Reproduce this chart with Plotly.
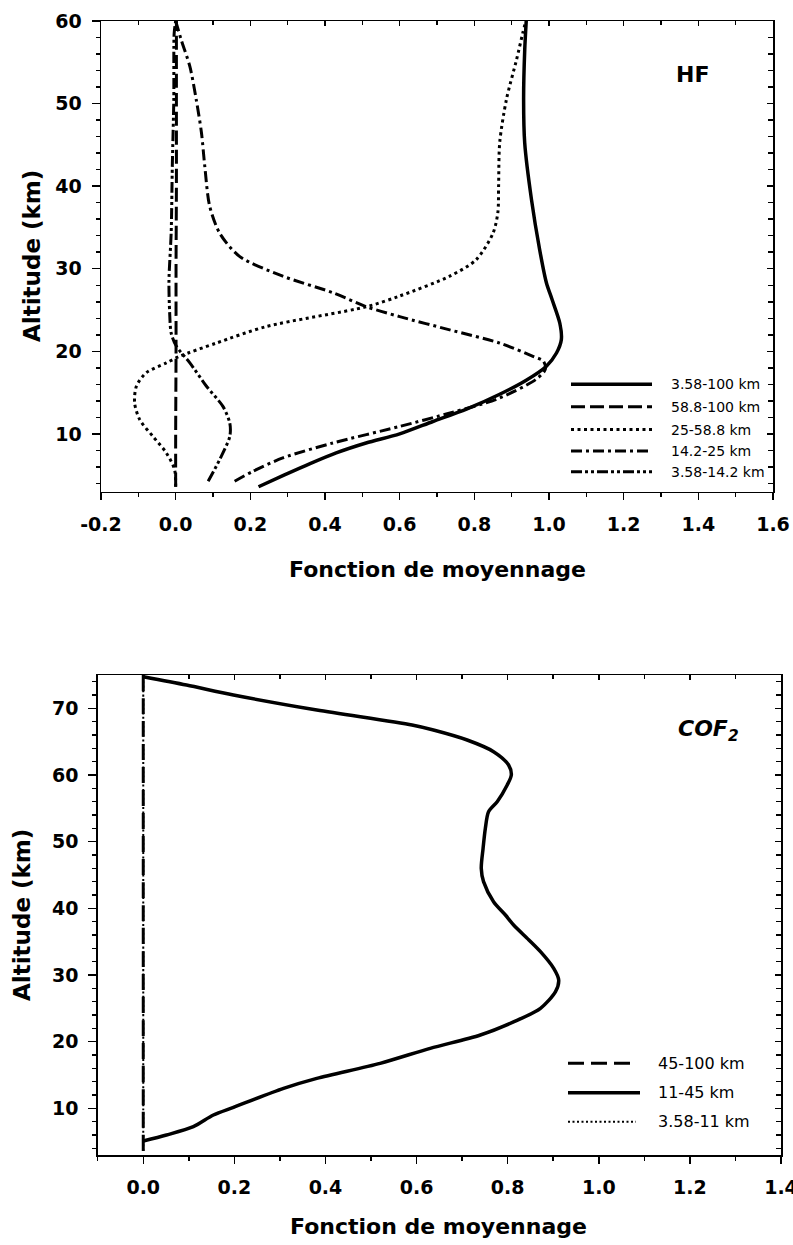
import plotly.graph_objects as go

W, H = 793, 1245

# ---------------- DATA : HF (top panel) ----------------
hf_names = ["3.58-100 km", "58.8-100 km", "25-58.8 km", "14.2-25 km", "3.58-14.2 km"]

hf_alt_1 = [3.6, 5.0, 6.4, 7.7, 8.9, 10.0, 11.5, 13.0, 14.8, 16.5, 18.2, 19.8, 21.4, 23.4, 26.3, 28.3, 32.3, 38.4, 45.2, 50.5, 56.5, 60.0]
hf_val_1 = [0.222, 0.290, 0.360, 0.430, 0.510, 0.600, 0.689, 0.779, 0.868, 0.939, 0.993, 1.020, 1.033, 1.029, 1.008, 0.993, 0.975, 0.953, 0.935, 0.932, 0.935, 0.939]

hf_alt_2 = [3.6, 10.0, 20.0, 30.0, 40.0, 50.0, 60.0]
hf_val_2 = [0.000, 0.000, 0.001, 0.001, 0.002, 0.002, 0.002]

hf_alt_3 = [3.6, 5.7, 7.7, 9.7, 11.7, 13.75, 15.8, 17.4, 18.6, 19.4, 21.0, 23.0, 25.4, 26.7, 29.1, 31.1, 34.3, 36.8, 40.0, 45.3, 50.5, 55.3, 58.6, 60.0]
hf_val_3 = [0.000, -0.003, -0.025, -0.061, -0.096, -0.110, -0.105, -0.079, -0.025, 0.011, 0.109, 0.243, 0.511, 0.600, 0.734, 0.805, 0.850, 0.863, 0.865, 0.868, 0.886, 0.913, 0.930, 0.938]

hf_alt_4 = [4.26, 5.47, 7.09, 8.9, 10.9, 12.6, 14.2, 16.6, 17.8, 18.8, 19.4, 21.0, 22.6, 24.2, 25.4, 27.1, 29.1, 31.5, 34.3, 37.6, 42.4, 46.5, 50.5, 54.5, 57.7, 60.0]
hf_val_4 = [0.158, 0.207, 0.287, 0.421, 0.600, 0.740, 0.860, 0.965, 0.990, 0.985, 0.957, 0.868, 0.734, 0.600, 0.511, 0.421, 0.287, 0.171, 0.118, 0.091, 0.078, 0.069, 0.055, 0.038, 0.015, 0.000]

hf_alt_5 = [4.26, 6.9, 9.7, 11.3, 13.3, 15.8, 18.6, 20.6, 22.2, 24.6, 28.5, 34.4, 42.4, 50.5, 58.5, 60.0]
hf_val_5 = [0.087, 0.118, 0.145, 0.145, 0.127, 0.082, 0.038, 0.002, -0.012, -0.016, -0.018, -0.012, -0.009, -0.005, -0.004, 0.000]

hf_alts = [hf_alt_1, hf_alt_2, hf_alt_3, hf_alt_4, hf_alt_5]
hf_vals = [hf_val_1, hf_val_2, hf_val_3, hf_val_4, hf_val_5]

hf_xticks = [-0.2, 0.0, 0.2, 0.4, 0.6, 0.8, 1.0, 1.2, 1.4, 1.6]
hf_xlabels = ["-0.2", "0.0", "0.2", "0.4", "0.6", "0.8", "1.0", "1.2", "1.4", "1.6"]
hf_yticks = [10, 20, 30, 40, 50, 60]

# ---------------- DATA : COF2 (bottom panel) ----------------
cof_names = ["45-100 km", "11-45 km", "3.58-11 km"]

cof_alt_1 = [3.6, 10.0, 20.0, 30.0, 40.0, 50.0, 60.0, 70.0, 75.0]
cof_val_1 = [0.0, 0.0, 0.0, 0.0, 0.0, 0.0, 0.0, 0.0, 0.0]

cof_alt_2 = [5.1, 6.0, 7.25, 9.0, 10.15, 13.0, 14.5, 16.75, 19.0, 21.0, 23.0, 25.0, 27.5, 29.25, 31.0, 33.5, 35.3, 37.5, 39.0, 41.0, 44.0, 46.0, 49.0, 52.0, 54.5, 56.0, 58.5, 60.0, 61.5, 63.5, 65.25, 66.75, 67.5, 69.75, 72.0, 73.5, 74.75]
cof_val_2 = [0.000, 0.051, 0.110, 0.154, 0.198, 0.308, 0.381, 0.520, 0.630, 0.740, 0.814, 0.872, 0.905, 0.912, 0.901, 0.872, 0.846, 0.813, 0.795, 0.769, 0.747, 0.742, 0.746, 0.751, 0.758, 0.777, 0.799, 0.808, 0.802, 0.769, 0.711, 0.637, 0.590, 0.381, 0.198, 0.095, 0.000]

cof_alt_3 = [3.6, 10.0, 20.0, 30.0, 40.0, 50.0, 60.0, 70.0, 75.0]
cof_val_3 = [0.0, 0.0, 0.0, 0.0, 0.0, 0.0, 0.0, 0.0, 0.0]

cof_alts = [cof_alt_1, cof_alt_2, cof_alt_3]
cof_vals = [cof_val_1, cof_val_2, cof_val_3]

cof_xticks = [0.0, 0.2, 0.4, 0.6, 0.8, 1.0, 1.2, 1.4]
cof_xlabels = ["0.0", "0.2", "0.4", "0.6", "0.8", "1.0", "1.2", "1.4"]
cof_yticks = [10, 20, 30, 40, 50, 60, 70]

x_title = "Fonction de moyennage"
y_title = "Altitude (km)"

# ---------------- STYLES ----------------
FONT = "DejaVu Sans"
hf_styles = [
    dict(width=3.5, dash="solid"),
    dict(width=3, dash="14px,5px"),
    dict(width=3, dash="3px,3.5px"),
    dict(width=3, dash="11px,4px,3px,4px"),
    dict(width=3, dash="11px,3px,3px,3px,3px,3px"),
]
cof_styles = [
    dict(width=3, dash="16px,7px"),
    dict(width=3.5, dash="solid"),
    dict(width=2, dash="2px,2.5px"),
]


def px_x(p):
    return p / W


def px_y(p):
    return 1 - p / H


# panel geometry (reference pixels)
top_box = (101, 773, 21, 491.7)
bot_box = (97.7, 781, 675, 1155)

fig = go.Figure()

for alts, vals, name, st in zip(hf_alts, hf_vals, hf_names, hf_styles):
    fig.add_trace(go.Scatter(x=vals, y=alts, mode="lines", name=name, showlegend=False,
                             line=dict(color="black", width=st["width"], dash=st["dash"],
                                       shape="spline", smoothing=0.8),
                             xaxis="x", yaxis="y"))

for alts, vals, name, st in zip(cof_alts, cof_vals, cof_names, cof_styles):
    fig.add_trace(go.Scatter(x=vals, y=alts, mode="lines", name=name, showlegend=False,
                             line=dict(color="black", width=st["width"], dash=st["dash"],
                                       shape="spline", smoothing=0.8),
                             xaxis="x2", yaxis="y2"))

# empty traces so the mirrored "inside tick" axes are drawn
for xa, ya in [("x3", "y"), ("x", "y3"), ("x4", "y2"), ("x2", "y4")]:
    fig.add_trace(go.Scatter(x=[], y=[], xaxis=xa, yaxis=ya, showlegend=False, hoverinfo="skip"))

tickfont = dict(family=FONT, size=19, color="black", weight="bold")

def main_x(domain, rng, tickvals, ticktext, anchor):
    return dict(domain=domain, range=rng, anchor=anchor, tickvals=tickvals, ticktext=ticktext,
                ticks="outside", ticklen=7, tickwidth=1.5, tickcolor="black", automargin=False,
                ticklabeloverflow="allow",
                minor=dict(dtick=0.1, tick0=0, ticks="outside", ticklen=4, tickwidth=1.5, tickcolor="black"),
                showline=True, linecolor="black", linewidth=1.5, mirror=True,
                showgrid=False, zeroline=False, tickfont=tickfont, ticklabelstandoff=8)

def main_y(domain, rng, tickvals, anchor):
    return dict(domain=domain, range=rng, anchor=anchor, tickvals=tickvals,
                ticktext=[str(v) for v in tickvals], automargin=False,
                ticklabeloverflow="allow",
                ticks="outside", ticklen=8, tickwidth=1.5, tickcolor="black",
                minor=dict(dtick=2, tick0=0, ticks="outside", ticklen=4, tickwidth=1.5, tickcolor="black"),
                showline=True, linecolor="black", linewidth=1.5, mirror=True,
                showgrid=False, zeroline=False, tickfont=tickfont, ticklabelstandoff=6)

def mirror_x(domain, rng, tickvals, anchor, over):
    return dict(domain=domain, range=rng, anchor=anchor, overlaying=over, side="top",
                tickvals=tickvals, showticklabels=False, automargin=False,
                ticks="inside", ticklen=5, tickwidth=1.5, tickcolor="black",
                minor=dict(dtick=0.1, tick0=0, ticks="inside", ticklen=4, tickwidth=1.5, tickcolor="black"),
                showline=False, showgrid=False, zeroline=False)

def mirror_y(domain, rng, tickvals, anchor, over):
    return dict(domain=domain, range=rng, anchor=anchor, overlaying=over, side="right",
                tickvals=tickvals, showticklabels=False, automargin=False,
                ticks="inside", ticklen=6, tickwidth=1.5, tickcolor="black",
                minor=dict(dtick=2, tick0=0, ticks="inside", ticklen=5, tickwidth=1.5, tickcolor="black"),
                showline=False, showgrid=False, zeroline=False)

tx = [px_x(top_box[0]), px_x(top_box[1])]
ty = [px_y(top_box[3]), px_y(top_box[2])]
bx = [px_x(bot_box[0]), px_x(bot_box[1])]
by = [px_y(bot_box[3]), px_y(bot_box[2])]

hf_xr = [-0.2, 1.6]
hf_yr = [3, 60]
cof_xr = [-0.1, 1.4]
cof_yr = [3, 75]

fig.update_layout(
    width=W, height=H, margin=dict(l=0, r=0, t=0, b=0, autoexpand=False),
    paper_bgcolor="white", plot_bgcolor="white",
    xaxis=main_x(tx, hf_xr, hf_xticks, hf_xlabels, "y"),
    yaxis=main_y(ty, hf_yr, hf_yticks, "x"),
    xaxis3=mirror_x(tx, hf_xr, hf_xticks, "y", "x"),
    yaxis3=mirror_y(ty, hf_yr, hf_yticks, "x", "y"),
    xaxis2=main_x(bx, cof_xr, cof_xticks, cof_xlabels, "y2"),
    yaxis2=main_y(by, cof_yr, cof_yticks, "x2"),
    xaxis4=mirror_x(bx, cof_xr, cof_xticks, "y2", "x2"),
    yaxis4=mirror_y(by, cof_yr, cof_yticks, "x2", "y2"),
    showlegend=False,
    hovermode=False,
)

ann = []
# axis titles
title_font = dict(family=FONT, size=22, color="black", weight="bold")
ann.append(dict(text=x_title, x=px_x(437), y=px_y(570), xref="paper", yref="paper",
                showarrow=False, xanchor="center", yanchor="middle", font=title_font))
ann.append(dict(text=x_title, x=px_x(439), y=px_y(1226), xref="paper", yref="paper",
                showarrow=False, xanchor="center", yanchor="middle", font=title_font))
ytitle_font = dict(family=FONT, size=23, color="black", weight="bold")
ann.append(dict(text=y_title, x=px_x(32), y=px_y(256), xref="paper", yref="paper", textangle=-90,
                showarrow=False, xanchor="center", yanchor="middle", font=ytitle_font))
ann.append(dict(text=y_title, x=px_x(22), y=px_y(915), xref="paper", yref="paper", textangle=-90,
                showarrow=False, xanchor="center", yanchor="middle", font=ytitle_font))
# panel labels
ann.append(dict(text="HF", x=px_x(692), y=px_y(75), xref="paper", yref="paper", showarrow=False,
                xanchor="center", yanchor="middle",
                font=dict(family=FONT, size=22, color="black", weight="bold")))
ann.append(dict(text="COF<sub>2</sub>", x=px_x(708), y=px_y(731), xref="paper", yref="paper", showarrow=False,
                xanchor="center", yanchor="middle",
                font=dict(family=FONT, size=22, color="black", weight="bold", style="italic")))

shapes = []
# legend, top panel
hf_rows = [384.3, 406.7, 429.5, 451, 471.7]
for name, st, yy in zip(hf_names, hf_styles, hf_rows):
    shapes.append(dict(type="line", xref="paper", yref="paper",
                       x0=px_x(571), x1=px_x(652), y0=px_y(yy), y1=px_y(yy),
                       line=dict(color="black", width=st["width"], dash=st["dash"])))
    ann.append(dict(text=name, x=px_x(669), y=px_y(yy), xref="paper", yref="paper", showarrow=False,
                    xanchor="left", yanchor="middle",
                    font=dict(family=FONT, size=14, color="black")))
# legend, bottom panel
cof_rows = [1063.3, 1092.7, 1121.7]
cof_len = [632, 640, 636]
for name, st, yy, x1 in zip(cof_names, cof_styles, cof_rows, cof_len):
    shapes.append(dict(type="line", xref="paper", yref="paper",
                       x0=px_x(568), x1=px_x(x1), y0=px_y(yy), y1=px_y(yy),
                       line=dict(color="black", width=st["width"], dash=st["dash"])))
    ann.append(dict(text=name, x=px_x(656), y=px_y(yy), xref="paper", yref="paper", showarrow=False,
                    xanchor="left", yanchor="middle",
                    font=dict(family=FONT, size=16, color="black")))

fig.update_layout(annotations=ann, shapes=shapes)

# remove the default 8 px page margin so the figure fills the window exactly
fig.write_html("out.html",
               config={"displayModeBar": False, "staticPlot": True},
               post_script="document.body.style.margin='0';document.body.style.overflow='hidden';")
